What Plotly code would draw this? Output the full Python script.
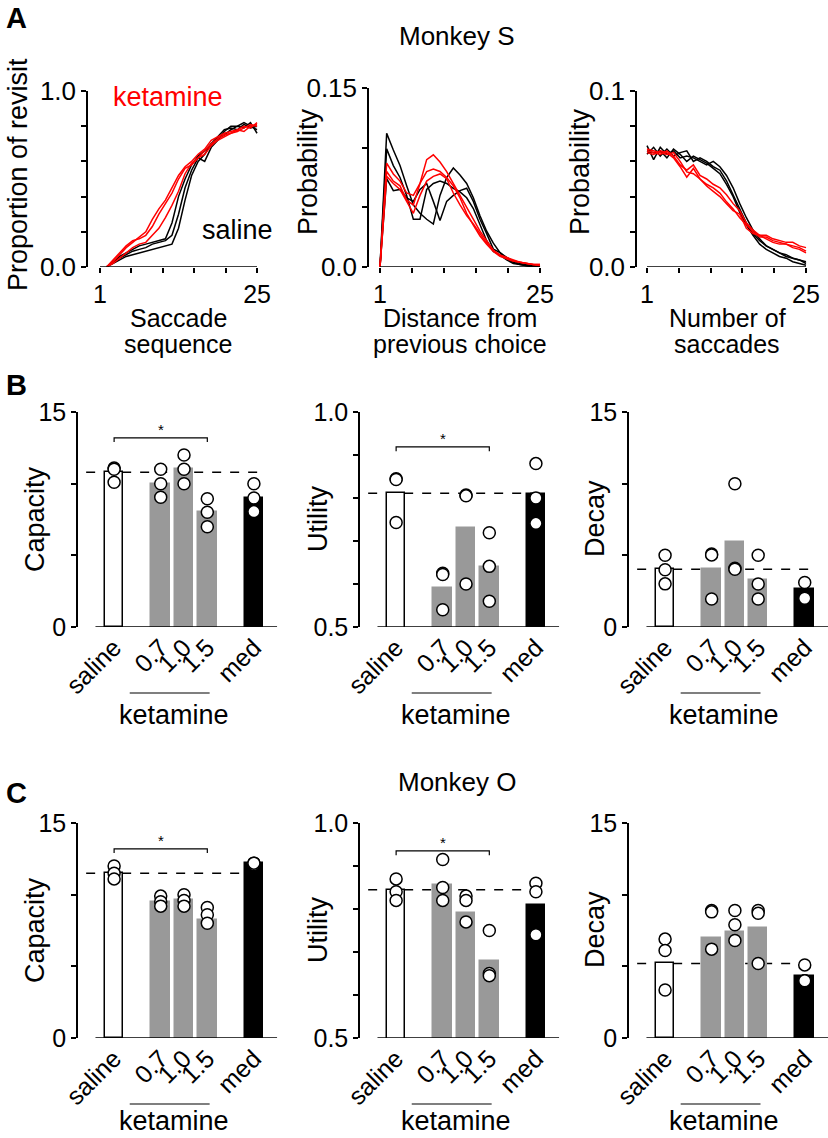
import plotly.graph_objects as go

W, H = 828, 1138
FONT = "Liberation Sans, Arial, sans-serif"
GRAY = "#999999"

# ---------------- Data: panel A (Monkey S) ----------------
seq_x = list(range(2, 26))
revisit_saline = [
    [0.00, 0.02, 0.04, 0.06, 0.07, 0.08, 0.09, 0.10, 0.11, 0.12, 0.13, 0.22, 0.38, 0.52, 0.60, 0.64, 0.70, 0.73, 0.75, 0.78, 0.80, 0.79, 0.82, 0.76],
    [0.00, 0.03, 0.05, 0.07, 0.09, 0.10, 0.11, 0.13, 0.14, 0.15, 0.18, 0.30, 0.45, 0.55, 0.62, 0.60, 0.68, 0.72, 0.77, 0.80, 0.80, 0.82, 0.80, 0.78],
    [0.00, 0.03, 0.06, 0.08, 0.10, 0.12, 0.13, 0.14, 0.15, 0.16, 0.25, 0.40, 0.50, 0.58, 0.63, 0.66, 0.70, 0.74, 0.78, 0.79, 0.78, 0.81, 0.79, 0.80],
]
revisit_ketamine = [
    [0.00, 0.03, 0.07, 0.11, 0.14, 0.17, 0.20, 0.27, 0.33, 0.38, 0.45, 0.52, 0.57, 0.60, 0.64, 0.67, 0.72, 0.74, 0.76, 0.77, 0.78, 0.80, 0.79, 0.82],
    [0.00, 0.04, 0.08, 0.12, 0.15, 0.16, 0.18, 0.23, 0.30, 0.36, 0.42, 0.50, 0.56, 0.58, 0.62, 0.66, 0.70, 0.73, 0.75, 0.76, 0.77, 0.79, 0.81, 0.80],
    [0.00, 0.02, 0.05, 0.08, 0.11, 0.13, 0.14, 0.18, 0.22, 0.28, 0.35, 0.43, 0.53, 0.59, 0.62, 0.64, 0.69, 0.72, 0.74, 0.76, 0.78, 0.77, 0.80, 0.81],
]
dist_x = list(range(1, 26))
dist_saline = [
    [0.0, 0.112, 0.098, 0.085, 0.068, 0.052, 0.045, 0.040, 0.036, 0.060, 0.075, 0.083, 0.077, 0.070, 0.058, 0.043, 0.030, 0.020, 0.012, 0.008, 0.005, 0.003, 0.002, 0.001, 0.000],
    [0.0, 0.099, 0.085, 0.075, 0.060, 0.040, 0.040, 0.065, 0.070, 0.072, 0.070, 0.066, 0.063, 0.058, 0.049, 0.035, 0.022, 0.013, 0.010, 0.006, 0.003, 0.002, 0.001, 0.001, 0.000],
    [0.0, 0.074, 0.064, 0.065, 0.058, 0.055, 0.065, 0.070, 0.055, 0.039, 0.055, 0.060, 0.064, 0.066, 0.055, 0.040, 0.028, 0.015, 0.012, 0.007, 0.004, 0.002, 0.001, 0.000, 0.000],
]
dist_ketamine = [
    [0.0, 0.087, 0.078, 0.072, 0.062, 0.060, 0.070, 0.090, 0.094, 0.088, 0.080, 0.070, 0.060, 0.050, 0.040, 0.030, 0.022, 0.014, 0.010, 0.008, 0.006, 0.004, 0.003, 0.002, 0.002],
    [0.0, 0.080, 0.072, 0.068, 0.056, 0.052, 0.070, 0.080, 0.082, 0.080, 0.075, 0.068, 0.058, 0.045, 0.035, 0.026, 0.019, 0.013, 0.009, 0.007, 0.005, 0.004, 0.003, 0.002, 0.001],
    [0.0, 0.076, 0.070, 0.065, 0.055, 0.045, 0.060, 0.072, 0.076, 0.078, 0.074, 0.062, 0.052, 0.043, 0.036, 0.028, 0.020, 0.014, 0.010, 0.007, 0.005, 0.004, 0.003, 0.002, 0.002],
]
nsacc_x = list(range(1, 26))
nsacc_saline = [
    [0.069, 0.061, 0.068, 0.064, 0.066, 0.062, 0.063, 0.062, 0.060, 0.058, 0.060, 0.057, 0.052, 0.045, 0.036, 0.028, 0.021, 0.016, 0.012, 0.010, 0.008, 0.006, 0.005, 0.004, 0.003],
    [0.064, 0.068, 0.063, 0.067, 0.063, 0.065, 0.066, 0.060, 0.062, 0.060, 0.057, 0.055, 0.049, 0.041, 0.033, 0.025, 0.019, 0.015, 0.012, 0.010, 0.008, 0.007, 0.005, 0.004, 0.002],
    [0.066, 0.065, 0.066, 0.062, 0.067, 0.064, 0.060, 0.063, 0.061, 0.059, 0.056, 0.053, 0.047, 0.040, 0.031, 0.024, 0.018, 0.013, 0.010, 0.008, 0.006, 0.005, 0.003, 0.002, 0.001],
]
nsacc_ketamine = [
    [0.066, 0.065, 0.064, 0.066, 0.063, 0.058, 0.055, 0.058, 0.052, 0.050, 0.047, 0.045, 0.041, 0.036, 0.032, 0.025, 0.021, 0.018, 0.018, 0.016, 0.015, 0.014, 0.014, 0.012, 0.011],
    [0.065, 0.064, 0.066, 0.065, 0.062, 0.057, 0.051, 0.056, 0.050, 0.047, 0.045, 0.042, 0.037, 0.033, 0.028, 0.024, 0.020, 0.017, 0.017, 0.015, 0.014, 0.013, 0.012, 0.011, 0.009],
    [0.067, 0.066, 0.065, 0.064, 0.065, 0.060, 0.054, 0.053, 0.050, 0.046, 0.043, 0.040, 0.036, 0.032, 0.030, 0.022, 0.019, 0.018, 0.016, 0.014, 0.013, 0.013, 0.011, 0.010, 0.008],
]

# ---------------- Data: panels B (Monkey S) and C (Monkey O) ----------------
conditions = ["saline", "0.7", "1.0", "1.5", "med"]

capacity_S_bar = [10.8, 10.0, 11.0, 8.0, 9.0]
capacity_S_pts = [[11.1, 11.0, 10.1], [11.0, 10.0, 9.05], [12.0, 11.0, 10.0], [8.95, 8.0, 7.0], [10.0, 9.0, 8.05]]
utility_S_bar = [0.811, 0.590, 0.730, 0.639, 0.809]
utility_S_pts = [[0.845, 0.843, 0.743], [0.625, 0.622, 0.540], [0.807, 0.805, 0.600], [0.719, 0.641, 0.560], [0.880, 0.800, 0.741]]
decay_S_bar = [4.03, 4.03, 5.96, 3.27, 2.64]
decay_S_pts = [[5.0, 3.99, 3.01], [5.1, 5.03, 1.95], [10.0, 4.1, 4.03], [5.0, 3.0, 1.95], [3.1, 1.95, 2.0]]

capacity_O_bar = [11.5, 9.5, 9.6, 8.2, 12.2]
capacity_O_pts = [[12.0, 11.5, 11.1], [9.9, 9.5, 9.2], [10.0, 9.6, 9.2], [9.1, 8.6, 8.0], [12.2, 12.1, 12.2]]
utility_O_bar = [0.845, 0.855, 0.790, 0.680, 0.810]
utility_O_pts = [[0.870, 0.840, 0.820], [0.915, 0.850, 0.820], [0.830, 0.820, 0.770], [0.750, 0.650, 0.645], [0.860, 0.840, 0.740]]
decay_O_bar = [5.2, 7.0, 7.4, 7.7, 4.3]
decay_O_pts = [[6.9, 6.1, 3.35], [8.9, 8.8, 6.2], [8.9, 7.9, 6.8], [8.9, 8.7, 5.2], [5.1, 4.0, 4.0]]

# significance bracket heights (fraction of axis span) per bar panel
bracket_frac = {4: 0.88, 5: 0.838, 7: 0.88, 8: 0.87}

# ---------------- Layout constants ----------------
cat_pos = [0, 2, 3, 4, 6]
bar_fill = ["white", GRAY, GRAY, GRAY, "black"]
bar_edge = ["black", GRAY, GRAY, GRAY, "black"]


def xd(l, r):
    return [l / W, r / W]


def yd(t, b):
    return [1 - b / H, 1 - t / H]


def py(p):
    return 1 - p / H


def px(p):
    return p / W


fig = go.Figure()
layout = dict(width=W, height=H, margin=dict(l=0, r=0, t=0, b=0, autoexpand=False),
              paper_bgcolor="white", plot_bgcolor="white", showlegend=False,
              font=dict(family=FONT, color="black"))
shapes = []
annotations = []


def ax_names(i):
    return ("xaxis" if i == 1 else f"xaxis{i}", "yaxis" if i == 1 else f"yaxis{i}",
            "x" if i == 1 else f"x{i}", "y" if i == 1 else f"y{i}")


def txt(x, y, s, size=28, angle=0, color="black", bold=False):
    annotations.append(dict(x=x, y=y, xref="paper", yref="paper", text=("<b>%s</b>" % s) if bold else s,
                            showarrow=False, textangle=angle, xanchor="center", yanchor="middle",
                            font=dict(size=size, color=color, family=FONT)))


# ---------- Panel A ----------
A_specs = [
    (1, (88, 259), (91, 267), [-0.83, 25.3], [0, 1.0], [0, 0.2, 0.4, 0.6, 0.8, 1.0], ["0.0", "", "", "", "", "1.0"],
     seq_x, revisit_saline, revisit_ketamine),
    (2, (369, 542), (88, 267), [-0.65, 25.3], [0, 0.15], [0, 0.05, 0.10, 0.15], ["0.0", "", "", "0.15"],
     dist_x, dist_saline, dist_ketamine),
    (3, (637, 808), (91, 267), [-0.51, 25.3], [0, 0.1], [0, 0.02, 0.04, 0.06, 0.08, 0.1], ["0.0", "", "", "", "", "0.1"],
     nsacc_x, nsacc_saline, nsacc_ketamine),
]
a_xticks = [1, 5.8, 10.6, 15.4, 20.2, 25]
for i, xdm, ydm, xr, yr, yt, ytt, xs, sal, ket in A_specs:
    xa, ya, xr_, yr_ = ax_names(i)
    layout[xa] = dict(domain=xd(*xdm), range=xr, anchor=yr_, showline=False, showgrid=False, zeroline=False,
                      ticks="outside", ticklen=5, tickwidth=1.5, tickcolor="black",
                      tickvals=a_xticks, ticktext=["1", "", "", "", "", "25"], tickfont=dict(size=25))
    layout[ya] = dict(domain=yd(*ydm), range=yr, anchor=xr_, showline=True, linewidth=1.5, linecolor="black",
                      showgrid=False, zeroline=False, ticks="outside", ticklen=5, tickwidth=1.5,
                      tickcolor="black", tickvals=yt, ticktext=ytt, tickfont=dict(size=26))
    for v in sal:
        fig.add_trace(go.Scatter(x=xs, y=v, mode="lines", line=dict(color="black", width=1.5),
                                 xaxis=xr_, yaxis=yr_, hoverinfo="skip"))
    for v in ket:
        fig.add_trace(go.Scatter(x=xs, y=v, mode="lines", line=dict(color="red", width=1.5),
                                 xaxis=xr_, yaxis=yr_, hoverinfo="skip"))
    shapes.append(dict(type="line", xref=xr_, yref=yr_, x0=a_xticks[0], x1=a_xticks[-1], y0=yr[0], y1=yr[0],
                       line=dict(color="black", width=1.5)))

txt(px(18), py(175), "Proportion of revisit", 27, -90)
txt(px(308), py(172), "Probability", 27, -90)
txt(px(580), py(172), "Probability", 27, -90)
for cx, l1, l2 in [(178, "Saccade", "sequence"), (460, "Distance from", "previous choice"), (727, "Number of", "saccades")]:
    txt(px(cx), py(318), l1, 25)
    txt(px(cx), py(344), l2, 25)
txt(px(168), py(97), "ketamine", 27, color="red")
txt(px(237), py(230), "saline", 27)
txt(px(457), py(36), "Monkey S", 26)
txt(px(457), py(782), "Monkey O", 26)
txt(px(16), py(18), "A", 29, bold=True)
txt(px(16), py(385), "B", 29, bold=True)
txt(px(16), py(793), "C", 29, bold=True)

# ---------- Panels B and C ----------
D = 411
rows = [
    (0, 715, [(capacity_S_bar, capacity_S_pts, "Capacity", [0, 15], [0, 5, 10, 15], ["0", "", "", "15"]),
              (utility_S_bar, utility_S_pts, "Utility", [0.5, 1.0], [0.5, 0.6, 0.7, 0.8, 0.9, 1.0], ["0.5", "", "", "", "", "1.0"]),
              (decay_S_bar, decay_S_pts, "Decay", [0, 15], [0, 5, 10, 15], ["0", "", "", "15"])]),
    (D, 1121, [(capacity_O_bar, capacity_O_pts, "Capacity", [0, 15], [0, 5, 10, 15], ["0", "", "", "15"]),
               (utility_O_bar, utility_O_pts, "Utility", [0.5, 1.0], [0.5, 0.6, 0.7, 0.8, 0.9, 1.0], ["0.5", "", "", "", "", "1.0"]),
               (decay_O_bar, decay_O_pts, "Decay", [0, 15], [0, 5, 10, 15], ["0", "", "", "15"])]),
]
lefts = [78, 360, 629]
title_x = [35, 318, 595]
XR = [-1.55, 7.0]
SCALE = 23.3
idx = 4
for off, ket_y, panels in rows:
    for k, (bars, pts, title, yr, yt, ytt) in enumerate(panels):
        xa, ya, xr_, yr_ = ax_names(idx)
        left = lefts[k]
        right = min(left + (XR[1] - XR[0]) * SCALE, W)
        layout[xa] = dict(domain=xd(left, right), range=XR, anchor=yr_, showline=False, showgrid=False,
                          zeroline=False, ticks="", tickvals=cat_pos, ticktext=conditions, tickangle=-45,
                          tickfont=dict(size=25))
        layout[ya] = dict(domain=yd(412 + off, 627 + off), range=yr, anchor=xr_, showline=True, linewidth=1.5,
                          linecolor="black", showgrid=False, zeroline=False, ticks="outside", ticklen=5,
                          tickwidth=1.5, tickcolor="black", tickvals=yt, ticktext=ytt, tickfont=dict(size=25))
        fig.add_trace(go.Bar(x=cat_pos, y=bars, width=0.8,
                             marker=dict(color=bar_fill, line=dict(color=bar_edge, width=1.5)),
                             xaxis=xr_, yaxis=yr_, hoverinfo="skip"))
        for j, p in enumerate(pts):
            fig.add_trace(go.Scatter(x=[cat_pos[j]] * len(p), y=p, mode="markers", cliponaxis=False,
                                     marker=dict(symbol="circle", size=12, color="white",
                                                 line=dict(color="black", width=1.5)),
                                     xaxis=xr_, yaxis=yr_, hoverinfo="skip"))
        span = yr[1] - yr[0]
        shapes.append(dict(type="line", xref=xr_, yref=yr_, x0=-1.2, x1=6.45, y0=bars[0], y1=bars[0],
                           layer="below", line=dict(color="black", width=1.5, dash="dash")))
        shapes.append(dict(type="line", xref=xr_, yref=yr_, x0=-0.8, x1=7.0, y0=yr[0], y1=yr[0],
                           line=dict(color="black", width=1.5)))
        shapes.append(dict(type="line", xref=xr_, yref="paper", x0=0.67, x1=4.1, y0=py(693 + off), y1=py(693 + off),
                           line=dict(color="black", width=1.2)))
        annotations.append(dict(x=2.55, y=py(ket_y), xref=xr_, yref="paper", text="ketamine",
                                height=22, valign="middle", yanchor="middle",
                                showarrow=False, font=dict(size=27, family=FONT, color="black")))
        txt(px(title_x[k]), py(519 + off), title, 27, -90)
        if idx in bracket_frac:
            hb = yr[0] + span * bracket_frac[idx]
            d = span * 0.02
            fig.add_trace(go.Scatter(x=[cat_pos[0], cat_pos[0], cat_pos[3], cat_pos[3]],
                                     y=[hb - d, hb, hb, hb - d], mode="lines", cliponaxis=False,
                                     line=dict(color="black", width=1.2), xaxis=xr_, yaxis=yr_, hoverinfo="skip"))
            annotations.append(dict(x=(cat_pos[0] + cat_pos[3]) / 2, y=hb, xref=xr_, yref=yr_, text="*",
                                    showarrow=False, yshift=8, font=dict(size=15, family=FONT, color="black")))
        idx += 1

layout["shapes"] = shapes
layout["annotations"] = annotations
layout["bargap"] = 0
fig.update_layout(**layout)
fig.write_html("out.html", config={"displayModeBar": False},
               post_script="document.body.style.margin='0';document.body.style.overflow='hidden';")
